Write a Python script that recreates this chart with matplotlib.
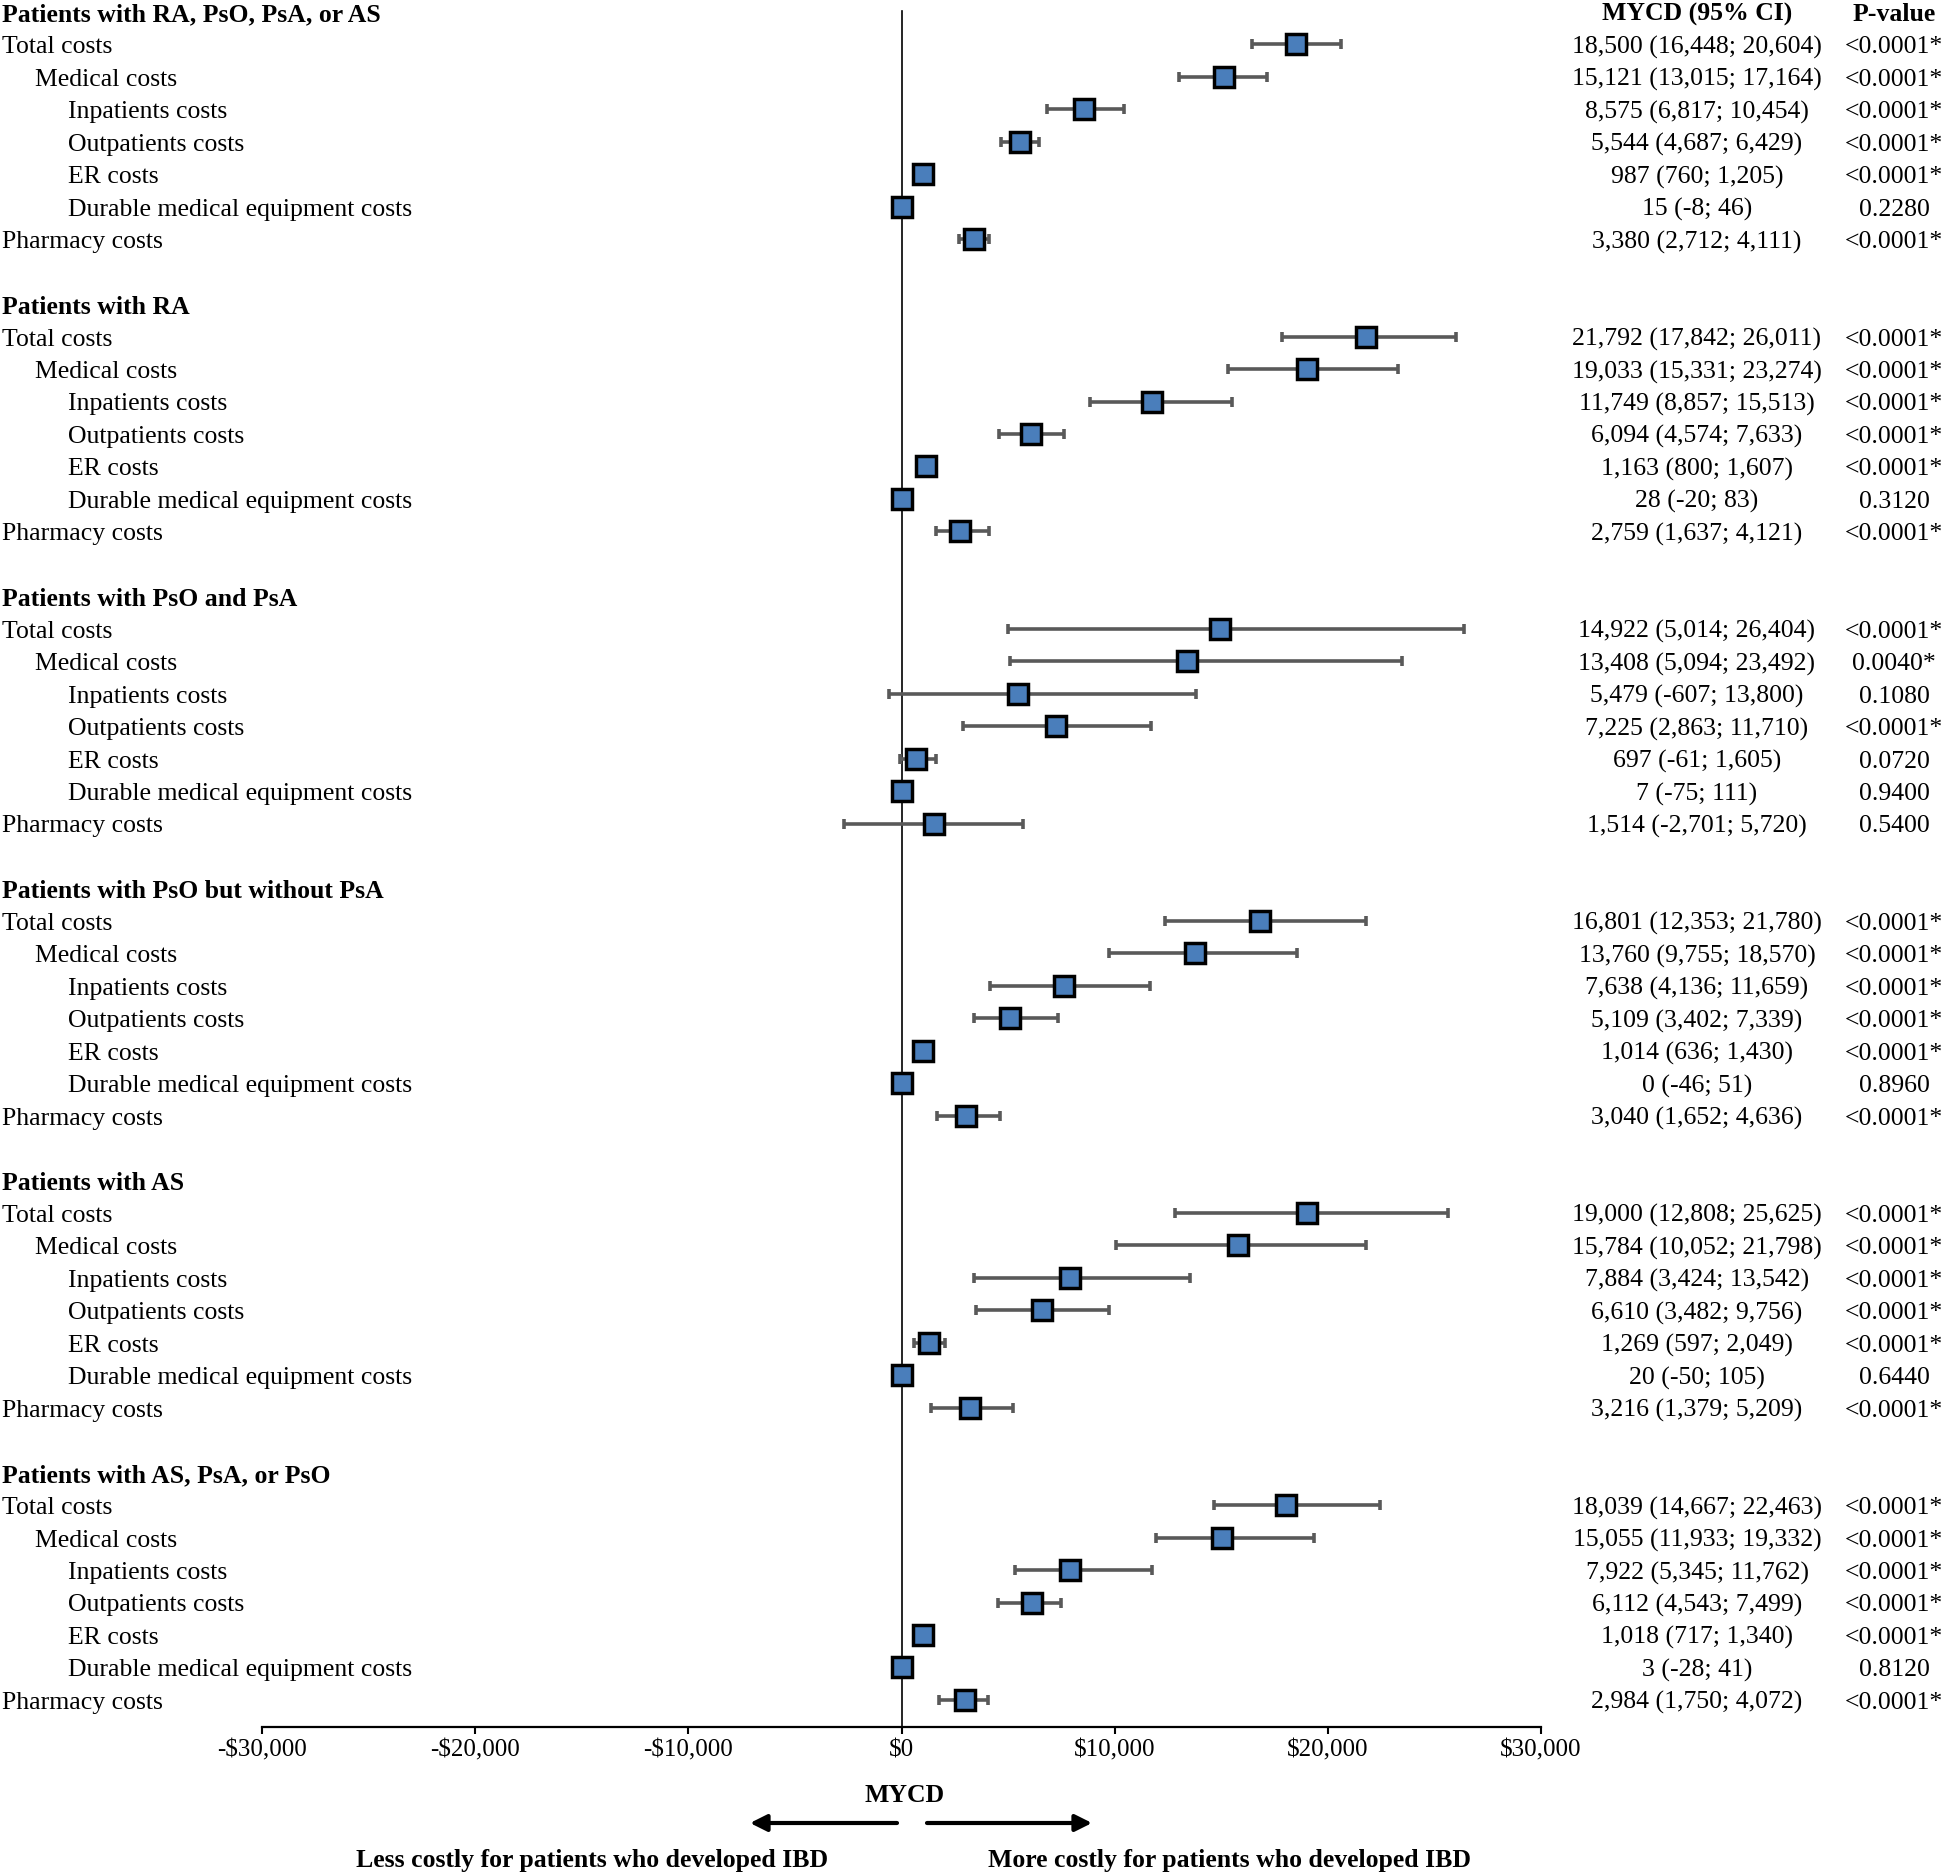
import matplotlib

matplotlib.use("Agg")
import matplotlib.pyplot as plt
from matplotlib.transforms import blended_transform_factory

plt.rcParams["font.family"] = ["Liberation Serif", "DejaVu Serif"]
plt.rcParams["text.parse_math"] = False

W, H = 1946, 1875

groups = [
    "Patients with RA, PsO, PsA, or AS",
    "Patients with RA",
    "Patients with PsO and PsA",
    "Patients with PsO but without PsA",
    "Patients with AS",
    "Patients with AS, PsA, or PsO",
]
row_labels = [
    "Total costs",
    "Medical costs",
    "Inpatients costs",
    "Outpatients costs",
    "ER costs",
    "Durable medical equipment costs",
    "Pharmacy costs",
]
indent_level = [0, 1, 2, 2, 2, 2, 0]

mycd = [
    [18500, 15121, 8575, 5544, 987, 15, 3380],
    [21792, 19033, 11749, 6094, 1163, 28, 2759],
    [14922, 13408, 5479, 7225, 697, 7, 1514],
    [16801, 13760, 7638, 5109, 1014, 0, 3040],
    [19000, 15784, 7884, 6610, 1269, 20, 3216],
    [18039, 15055, 7922, 6112, 1018, 3, 2984],
]
ci_low = [
    [16448, 13015, 6817, 4687, 760, -8, 2712],
    [17842, 15331, 8857, 4574, 800, -20, 1637],
    [5014, 5094, -607, 2863, -61, -75, -2701],
    [12353, 9755, 4136, 3402, 636, -46, 1652],
    [12808, 10052, 3424, 3482, 597, -50, 1379],
    [14667, 11933, 5345, 4543, 717, -28, 1750],
]
ci_high = [
    [20604, 17164, 10454, 6429, 1205, 46, 4111],
    [26011, 23274, 15513, 7633, 1607, 83, 4121],
    [26404, 23492, 13800, 11710, 1605, 111, 5720],
    [21780, 18570, 11659, 7339, 1430, 51, 4636],
    [25625, 21798, 13542, 9756, 2049, 105, 5209],
    [22463, 19332, 11762, 7499, 1340, 41, 4072],
]
p_values = [
    ["<0.0001*", "<0.0001*", "<0.0001*", "<0.0001*", "<0.0001*", "0.2280", "<0.0001*"],
    ["<0.0001*", "<0.0001*", "<0.0001*", "<0.0001*", "<0.0001*", "0.3120", "<0.0001*"],
    ["<0.0001*", "0.0040*", "0.1080", "<0.0001*", "0.0720", "0.9400", "0.5400"],
    ["<0.0001*", "<0.0001*", "<0.0001*", "<0.0001*", "<0.0001*", "0.8960", "<0.0001*"],
    ["<0.0001*", "<0.0001*", "<0.0001*", "<0.0001*", "<0.0001*", "0.6440", "<0.0001*"],
    ["<0.0001*", "<0.0001*", "<0.0001*", "<0.0001*", "<0.0001*", "0.8120", "<0.0001*"],
]
x_ticks = [-30000, -20000, -10000, 0, 10000, 20000, 30000]
x_tick_labels = ["-$30,000", "-$20,000", "-$10,000", "$0", "$10,000", "$20,000", "$30,000"]

# layout in pixels of the reference
row0_px, row_step = 12, 32.46
axis_px = 1727
left_px, right_px = 262, 1541

fig = plt.figure(figsize=(W / 100, H / 100), dpi=100)
ax = fig.add_axes([left_px / W, 1 - axis_px / H, (right_px - left_px) / W, axis_px / H])
ax.set_xlim(-30000, 30000)
ax.set_ylim((axis_px - row0_px) / row_step, -row0_px / row_step)

for s in ("left", "top", "right"):
    ax.spines[s].set_visible(False)
ax.spines["bottom"].set_linewidth(1.6)
ax.set_yticks([])
ax.set_xticks(x_ticks)
ax.set_xticklabels(x_tick_labels, fontsize=18)
ax.tick_params(axis="x", direction="out", length=5, width=1.5, pad=4)

n_rows = 9 * len(groups) - 1
ax.plot([0, 0], [-0.03, n_rows + 2], color="black", lw=1.2, zorder=1, clip_on=True)

tr = blended_transform_factory(fig.transFigure, ax.transData)
indent_px = [2, 35, 68]
fs = 18.5
dy = 0.09  # text sits a touch lower than the marker centre
col_mycd, col_p = 1697 / W, 1894 / W

ax.text(col_mycd, dy, "MYCD (95% CI)", transform=tr, ha="center", va="center",
        fontsize=fs, fontweight="bold")
ax.text(col_p, dy, "P-value", transform=tr, ha="center", va="center",
        fontsize=fs, fontweight="bold")

for g, name in enumerate(groups):
    base = 9 * g
    ax.text(2 / W, base + dy, name, transform=tr, ha="left", va="center",
            fontsize=fs, fontweight="bold")
    for i, lab in enumerate(row_labels):
        y = base + 1 + i
        ax.text(indent_px[indent_level[i]] / W, y + dy, lab, transform=tr,
                ha="left", va="center", fontsize=fs)
        m, lo, hi = mycd[g][i], ci_low[g][i], ci_high[g][i]
        ax.errorbar(m, y, xerr=[[m - lo], [hi - m]], fmt="none", ecolor="#595959",
                    elinewidth=2.6, capsize=3.5, capthick=2.6, zorder=2)
        ax.plot(m, y, marker="s", ms=15, mfc="#4a7ebb", mec="black", mew=2.5,
                ls="none", zorder=3)
        ax.text(col_mycd, y + dy, f"{m:,} ({lo:,}; {hi:,})", transform=tr,
                ha="center", va="center", fontsize=fs)
        ax.text(col_p, y + dy, p_values[g][i], transform=tr,
                ha="center", va="center", fontsize=fs)


def fpos(x, y):
    return (x / W, 1 - y / H)


fig.text(*fpos(905, 1795), "MYCD", ha="center", va="center", fontsize=fs, fontweight="bold")
arrow = dict(arrowstyle="-|>,head_length=0.5,head_width=0.25", lw=3, color="black",
             mutation_scale=20, shrinkA=0, shrinkB=0)
ax.annotate("", xy=fpos(750, 1823), xytext=fpos(897, 1823), xycoords="figure fraction",
            textcoords="figure fraction", arrowprops=arrow)
ax.annotate("", xy=fpos(1092, 1823), xytext=fpos(927, 1823), xycoords="figure fraction",
            textcoords="figure fraction", arrowprops=arrow)
fig.text(*fpos(592, 1860), "Less costly for patients who developed IBD", ha="center",
         va="center", fontsize=fs, fontweight="bold")
fig.text(*fpos(1230, 1860), "More costly for patients who developed IBD", ha="center",
         va="center", fontsize=fs, fontweight="bold")

fig.savefig("out.png", dpi=100)
